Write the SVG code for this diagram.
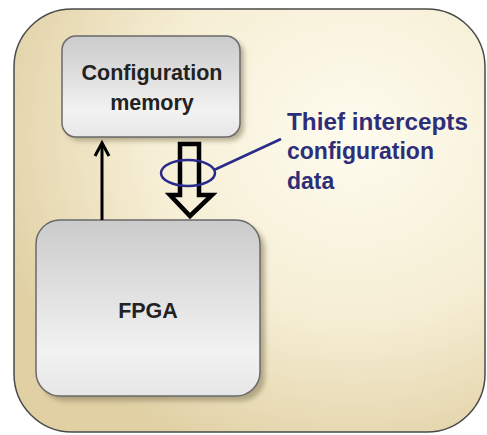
<svg xmlns="http://www.w3.org/2000/svg" width="487" height="435" viewBox="0 0 487 435">
<defs>
<radialGradient id="bg" cx="0.72" cy="0.3" r="0.8">
<stop offset="0" stop-color="#fefcef"/>
<stop offset="0.55" stop-color="#f6eed4"/>
<stop offset="1" stop-color="#e0d0a4"/>
</radialGradient>
<linearGradient id="box" x1="0" y1="0" x2="0" y2="1">
<stop offset="0" stop-color="#cbcbcb"/>
<stop offset="0.75" stop-color="#f2f2f2"/>
<stop offset="1" stop-color="#e6e6e6"/>
</linearGradient>
<filter id="sh" x="-10%" y="-10%" width="130%" height="130%">
<feGaussianBlur stdDeviation="2.5"/>
</filter>
<style>
.box{fill:url(#box);stroke:#6a6a6a;stroke-width:1.5}
.shadow{fill:#8b8060;opacity:0.6;filter:url(#sh)}
.lbl{font-family:"Liberation Sans",Arial,sans-serif;font-weight:bold;fill:#222;text-anchor:middle}
.thief{font-family:"Liberation Sans",Arial,sans-serif;font-weight:bold;fill:#2e2e78;font-size:23px}
</style>
</defs>
<g id="background">
<rect x="14" y="9" width="471" height="423" rx="58" fill="url(#bg)" stroke="#4a4a4a" stroke-width="1.5"/>
</g>
<g id="config-memory">
<rect class="shadow" x="66" y="40" width="178" height="101" rx="14"/>
<rect class="box" x="62" y="36" width="178" height="101" rx="14"/>
<text class="lbl" x="152" y="80" font-size="21.5">Configuration</text>
<text class="lbl" x="152" y="110" font-size="21.5">memory</text>
</g>
<g id="fpga">
<rect class="shadow" x="41" y="225" width="224" height="176" rx="24"/>
<rect class="box" x="36" y="220" width="224" height="176" rx="24"/>
<text class="lbl" x="148" y="318" font-size="21.5">FPGA</text>
</g>
<g id="connectors">
<line x1="102" y1="220" x2="102" y2="144" stroke="#000" stroke-width="3"/>
<polyline points="95,156 102,143 109,156" fill="none" stroke="#000" stroke-width="3"/>
<polygon points="180,144 199,144 199,195 212,195 190,216 170,195 180,195" fill="none" stroke="#000" stroke-width="4.5" stroke-linejoin="miter"/>
</g>
<g id="thief">
<ellipse cx="188" cy="173" rx="27" ry="13" fill="none" stroke="#2a2a8a" stroke-width="2.5"/>
<line x1="214" y1="170" x2="281" y2="139" stroke="#2a2a8a" stroke-width="2.5"/>
<text class="thief" x="287" y="130" textLength="181" lengthAdjust="spacingAndGlyphs">Thief intercepts</text>
<text class="thief" x="287" y="159">configuration</text>
<text class="thief" x="287" y="189">data</text>
</g>
</svg>
